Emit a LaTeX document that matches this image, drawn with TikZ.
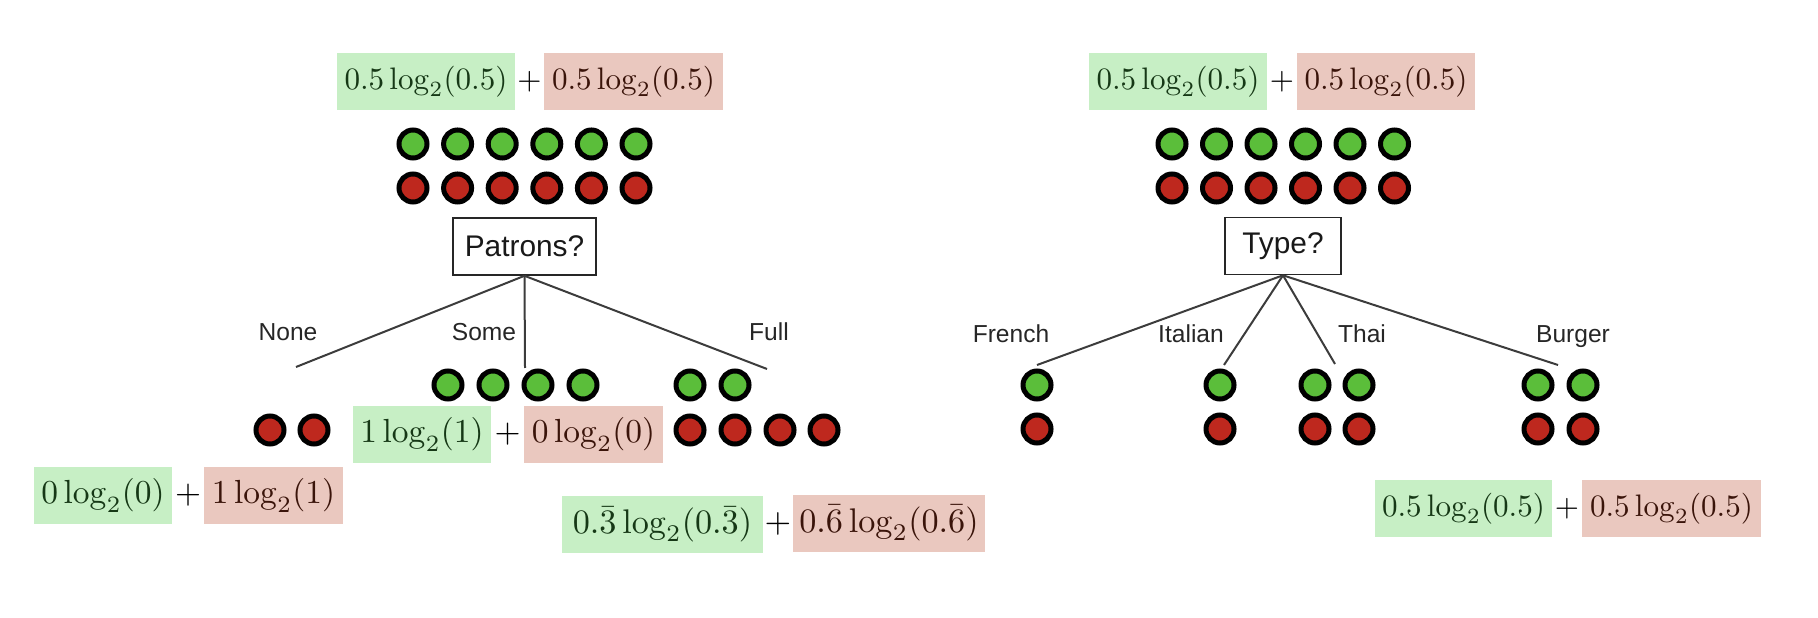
\documentclass[tikz,border=0pt]{standalone}
\usepackage{graphicx}
\usepackage[no-math]{fontspec}
\newfontfamily\lsans{Liberation Sans}
\newcommand{\pxlen}{0.3216pt}
\newcommand{\fmath}[2]{\scalebox{#1}{$#2$}}
\definecolor{gfill}{RGB}{199,239,197}
\definecolor{rfill}{RGB}{234,200,191}
\definecolor{gtext}{RGB}{22,56,22}
\definecolor{rtext}{RGB}{58,20,10}
\definecolor{gdotc}{RGB}{91,190,58}
\definecolor{rdotc}{RGB}{190,40,30}
\definecolor{linec}{RGB}{60,60,60}
\tikzset{
  fbase/.style={inner sep=0pt, minimum height=57*\pxlen, font=\fontsize{10}{12}\selectfont},
  gbox/.style={fbase, fill=gfill, text=gtext},
  rbox/.style={fbase, fill=rfill, text=rtext},
  plus/.style={inner sep=0pt, text=black, font=\fontsize{10}{12}\selectfont},
  dotbase/.style={circle, draw=black, line width=5*\pxlen, minimum size=28*\pxlen, inner sep=0pt},
  gdot/.style={dotbase, fill=gdotc},
  rdot/.style={dotbase, fill=rdotc},
  qbox/.style={draw=black!85, line width=1.6*\pxlen, inner sep=0pt, minimum height=57*\pxlen, font=\lsans\fontsize{9.6}{11}\selectfont, text=black!90},
  blabel/.style={anchor=base, inner sep=0pt, font=\lsans\fontsize{7.9}{9}\selectfont, text=black!85},
  branch/.style={draw=linec, line width=2*\pxlen},
}
\begin{document}
\begin{tikzpicture}[x=\pxlen, y=-\pxlen]
\useasboundingbox (0,0) rectangle (1818,618);

% ---------- left tree ----------
\node[gbox, minimum width=178*\pxlen] (tlG) at (426,81.5) {$0.5\log_2(0.5)$};
\node[plus] (tlP) at (529.5,81.5) {$+$};
\node[rbox, minimum width=179*\pxlen] (tlR) at (633.5,81.5) {$0.5\log_2(0.5)$};

\foreach \i in {0,...,5} {
  \node[gdot] (lg\i) at ({413+44.6*\i},144) {};
  \node[rdot] (lr\i) at ({413+44.6*\i},188) {};
}

\node[qbox, minimum width=143*\pxlen] (patrons) at (524.5,246.5) {Patrons?};

\coordinate (eNone) at (296,367);
\coordinate (eSome) at (525,368);
\coordinate (eFull) at (767,369);
\draw[branch] (patrons.south) -- (eNone);
\draw[branch] (patrons.south) -- (eSome);
\draw[branch] (patrons.south) -- (eFull);

\node[blabel] (lNone) at (288,341) {None};
\node[blabel] (lSome) at (484,341) {Some};
\node[blabel] (lFull) at (769,341) {Full};

% None leaf
\node[rdot] (nr0) at (270,430) {};
\node[rdot] (nr1) at (314,430) {};
% Some leaf
\foreach \x [count=\k] in {448,493,538,583} {
  \node[gdot] (sg\k) at (\x,385) {};
}
% Full leaf
\node[gdot] (fg1) at (690,385) {};
\node[gdot] (fg2) at (735,385) {};
\foreach \x [count=\k] in {690,735,780,824} {
  \node[rdot] (fr\k) at (\x,430) {};
}

% leaf formulas
\node[gbox, minimum width=138*\pxlen] (sG) at (422,434.5) {\fmath{1.075}{1\log_2(1)}};
\node[plus] (sP) at (507.5,434.5) {\fmath{1.075}{+}};
\node[rbox, minimum width=139*\pxlen] (sR) at (593.5,434.5) {\fmath{1.075}{0\log_2(0)}};

\node[gbox, minimum width=138*\pxlen] (nG) at (103,495.5) {\fmath{1.075}{0\log_2(0)}};
\node[plus] (nP) at (188,495.5) {\fmath{1.075}{+}};
\node[rbox, minimum width=139*\pxlen] (nR) at (273.5,495.5) {\fmath{1.075}{1\log_2(1)}};

\node[gbox, minimum width=201*\pxlen] (fG) at (662.5,524.5) {\fmath{1.1}{0.\bar{3}\log_2(0.\bar{3})}};
\node[plus] (fP) at (778,524) {\fmath{1.1}{+}};
\node[rbox, minimum width=192*\pxlen] (fR) at (889,523) {\fmath{1.1}{0.\bar{6}\log_2(0.\bar{6})}};

% ---------- right tree ----------
\node[gbox, minimum width=178*\pxlen] (trG) at (1178,81.5) {$0.5\log_2(0.5)$};
\node[plus] (trP) at (1282,81.5) {$+$};
\node[rbox, minimum width=178*\pxlen] (trR) at (1386,81.5) {$0.5\log_2(0.5)$};

\foreach \i in {0,...,5} {
  \node[gdot] (rg\i) at ({1172+44.5*\i},144) {};
  \node[rdot] (rr\i) at ({1172+44.5*\i},188) {};
}

\node[qbox, minimum width=116*\pxlen] (type) at (1283,246) {Type?};

\coordinate (eFrench) at (1037,365);
\coordinate (eItalian) at (1224,365);
\coordinate (eThai) at (1335,364);
\coordinate (eBurger) at (1558,365);
\draw[branch] (type.south) -- (eFrench);
\draw[branch] (type.south) -- (eItalian);
\draw[branch] (type.south) -- (eThai);
\draw[branch] (type.south) -- (eBurger);

\node[blabel] (lFrench) at (1011,343) {French};
\node[blabel] (lItalian) at (1191,343) {Italian};
\node[blabel] (lThai) at (1362,343) {Thai};
\node[blabel] (lBurger) at (1573,343) {Burger};

\foreach \x [count=\k] in {1037,1220,1315,1359,1538,1583} {
  \node[gdot] (tg\k) at (\x,385) {};
  \node[rdot] (tr\k) at (\x,429) {};
}

\node[gbox, minimum width=177*\pxlen] (bG) at (1463.5,508.5) {$0.5\log_2(0.5)$};
\node[plus] (bP) at (1567,508.5) {$+$};
\node[rbox, minimum width=179*\pxlen] (bR) at (1671.5,508.5) {$0.5\log_2(0.5)$};
\end{tikzpicture}
\end{document}
